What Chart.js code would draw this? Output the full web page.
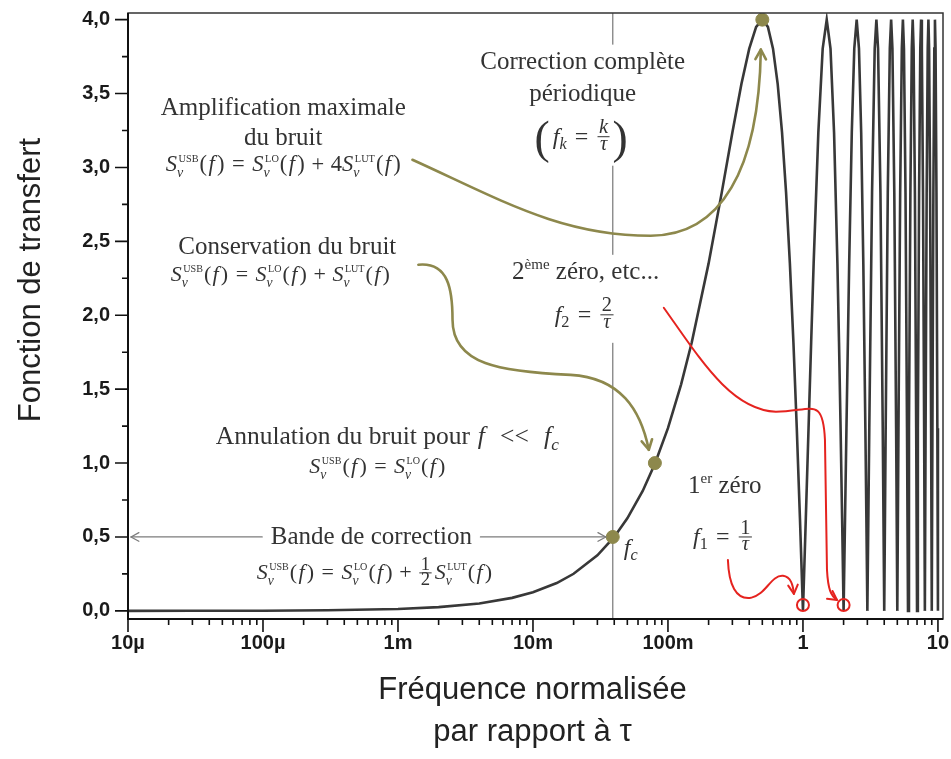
<!DOCTYPE html>
<html lang="fr">
<head>
<meta charset="utf-8">
<title>Fonction de transfert</title>
<script src="https://cdn.jsdelivr.net/npm/chart.js@4.4.1/dist/chart.umd.min.js"></script>
<style>
  html, body { margin: 0; padding: 0; background: #fff; }
</style>
</head>
<body>
<canvas id="transferChart" width="951" height="759"></canvas>
<script>
// Values (normalised frequence f*tau -> transfer)
const freq = [
    1e-5, 3e-5, 1e-4, 3e-4, 1e-3, 2e-3, 4e-3, 7e-3, 0.01, 0.015, 0.02, 0.03, 0.04, 0.05, 0.065, 0.08,
    0.1, 0.125, 0.15, 0.2, 0.25, 0.3, 0.35, 0.4, 0.45, 0.5, 0.55, 0.6, 0.65, 0.7, 0.75, 0.8, 0.85, 0.9, 0.95, 1,
    1.05, 1.1, 1.15, 1.2, 1.3, 1.4, 1.5, 1.6, 1.7, 1.8, 1.85, 1.9, 1.95, 2,
    2.05, 2.1, 2.2, 2.3, 2.4, 2.5, 2.6, 2.7, 2.8, 2.9, 2.95, 3,
    3.1, 3.25, 3.4, 3.5, 3.6, 3.75, 3.9, 4,
    4.1, 4.25, 4.4, 4.5, 4.6, 4.75, 4.9, 5,
    5.1, 5.25, 5.4, 5.5, 5.6, 5.75, 5.9, 6,
    6.1, 6.25, 6.4, 6.5, 6.6, 6.75, 6.9, 7,
    7.1, 7.25, 7.4, 7.5, 7.6, 7.75, 7.9, 8,
    8.1, 8.25, 8.4, 8.5, 8.6, 8.75, 8.9, 9,
    9.1, 9.25, 9.4, 9.5, 9.6, 9.75, 9.9, 10
];
const transfer = [
    0.0001, 0.0004, 0.0013, 0.0038, 0.0126, 0.0251, 0.0503, 0.088, 0.126, 0.188, 0.251, 0.376, 0.5, 0.626, 0.811, 0.995,
    1.236, 1.531, 1.816, 2.351, 2.828, 3.236, 3.564, 3.804, 3.951, 4.0, 3.951, 3.804, 3.564, 3.236, 2.828, 2.351, 1.816, 1.236, 0.626, 0,
    0.626, 1.236, 1.816, 2.351, 3.236, 3.804, 4.0, 3.804, 3.236, 2.351, 1.816, 1.236, 0.626, 0,
    0.626, 1.236, 2.351, 3.236, 3.804, 4.0, 3.804, 3.236, 2.351, 1.236, 0.626, 0,
    1.236, 2.828, 3.804, 4.0, 3.804, 2.828, 1.236, 0,
    1.236, 2.828, 3.804, 4.0, 3.804, 2.828, 1.236, 0,
    1.236, 2.828, 3.804, 4.0, 3.804, 2.828, 1.236, 0,
    1.236, 2.828, 3.804, 4.0, 3.804, 2.828, 1.236, 0,
    1.236, 2.828, 3.804, 4.0, 3.804, 2.828, 1.236, 0,
    1.236, 2.828, 3.804, 4.0, 3.804, 2.828, 1.236, 0,
    1.236, 2.828, 3.804, 4.0, 3.804, 2.828, 1.236, 0
];

// marked points on the curve: f_c, noise cancelled, max amplification
const markedFreq = [0.039, 0.08, 0.5];
const markedValue = [0.5, 1.0, 4.0];
const cornerFreq = 0.039;
const zeroFreq = [1, 2];

const decadeTicks = [1e-5, 1e-4, 1e-3, 1e-2, 1e-1, 1, 10];
const decadeLabels = ['10µ', '100µ', '1m', '10m', '100m', '1', '10'];
const yTicks = [0, 0.5, 1, 1.5, 2, 2.5, 3, 3.5, 4];

const SANS = '"Liberation Sans", Arial, sans-serif';
const SERIF = '"Liberation Serif", "Times New Roman", serif';
const OLIVE = '#8d884c';
const RED = '#e5231f';
const TEXT = '#333333';

// ---- small rich-text helper for the LaTeX-like labels ----
function fontOf(size, italic) {
    return (italic ? 'italic ' : '') + size.toFixed(1) + 'px ' + SERIF;
}
const N = t => ({ t });
const I = t => ({ t, it: true });
const sub = (t, it) => ({ t, it, s: 0.68, dy: 0.2 });
const sup = t => ({ t, s: 0.6, dy: -0.4 });
const gap = e => ({ gap: e });
const frac = (a, b) => ({ frac: [a, b] });
const stack = (a, b) => ({ stack: [a, b] });

const OF_F = [N('('), gap(0.06), I('f'), gap(0.1), N(')')];
const EQ = [gap(0.34), N('='), gap(0.34)];
const PLUS = [gap(0.3), N('+'), gap(0.3)];
const S = label => [I('S'), stack(label, 'ν')];

const formulaMax = [...S('USB'), ...OF_F, ...EQ, ...S('LO'), ...OF_F, ...PLUS, N('4'), ...S('LUT'), ...OF_F];
const formulaKeep = [...S('USB'), ...OF_F, ...EQ, ...S('LO'), ...OF_F, ...PLUS, ...S('LUT'), ...OF_F];
const formulaZero = [...S('USB'), ...OF_F, ...EQ, ...S('LO'), ...OF_F];
const formulaHalf = [...S('USB'), ...OF_F, ...EQ, ...S('LO'), ...OF_F, ...PLUS, frac('1', '2'), ...S('LUT'), ...OF_F];

function layoutRich(ctx, items, size) {
    const ops = [];
    let x = 0;
    items.forEach(it => {
        if (it.gap !== undefined) {
            x += it.gap * size;
        } else if (it.t !== undefined) {
            const font = fontOf(size * (it.s || 1), it.it);
            ctx.font = font;
            ops.push({ text: it.t, font, x, dy: (it.dy || 0) * size });
            x += ctx.measureText(it.t).width;
        } else if (it.stack) {
            const f1 = fontOf(size * 0.46, false);
            const f2 = fontOf(size * 0.62, true);
            ctx.font = f1;
            const w1 = ctx.measureText(it.stack[0]).width;
            ctx.font = f2;
            const w2 = ctx.measureText(it.stack[1]).width;
            ops.push({ text: it.stack[0], font: f1, x: x + 1.5, dy: -0.42 * size });
            ops.push({ text: it.stack[1], font: f2, x: x, dy: 0.24 * size });
            x += Math.max(w1 + 1.5, w2) + 1;
        } else if (it.frac) {
            const fs = size * 0.85;
            const fa = fontOf(fs, /[a-zτ]/.test(it.frac[0]));
            const fb = fontOf(fs, /[a-zτ]/.test(it.frac[1]));
            ctx.font = fa;
            const wa = ctx.measureText(it.frac[0]).width;
            ctx.font = fb;
            const wb = ctx.measureText(it.frac[1]).width;
            const w = Math.max(wa, wb) + 5;
            const bar = -0.3 * size;
            ops.push({ bar: true, x: x + 1, w: w - 2, dy: bar });
            ops.push({ text: it.frac[0], font: fa, x: x + (w - wa) / 2, dy: bar - 0.14 * size });
            ops.push({ text: it.frac[1], font: fb, x: x + (w - wb) / 2, dy: bar + 0.56 * size });
            x += w + 2;
        } else if (it.paren) {
            const font = fontOf(size * 1.9, false);
            ctx.font = font;
            ops.push({ text: it.paren, font, x, dy: 0.36 * size });
            x += ctx.measureText(it.paren).width + 3;
        }
    });
    return { ops, width: x };
}

function drawRich(ctx, note, cx, cy) {
    const { ops, width } = layoutRich(ctx, note.items, note.size);
    const left = cx - width / 2;
    const base = cy + 0.3 * note.size;
    if (note.bg) {
        const h = note.bgH || note.size * 1.4;
        ctx.fillStyle = '#ffffff';
        ctx.fillRect(left - 5, cy - h / 2, width + 10, h);
    }
    ctx.fillStyle = TEXT;
    ctx.strokeStyle = TEXT;
    ctx.textAlign = 'left';
    ctx.textBaseline = 'alphabetic';
    ops.forEach(op => {
        if (op.bar) {
            ctx.lineWidth = 1;
            ctx.beginPath();
            ctx.moveTo(left + op.x, base + op.dy);
            ctx.lineTo(left + op.x + op.w, base + op.dy);
            ctx.stroke();
        } else {
            ctx.font = op.font;
            ctx.fillText(op.text, left + op.x, base + op.dy);
        }
    });
}

// ---- annotation layout, positions in axis units [log10(f), transfer] ----
const notes = [
    { at: [-1.632, 3.716], size: 25, items: [N('Correction complète')], bg: true, bgH: 34 },
    { at: [-1.632, 3.499], size: 25, items: [N('périodique')], bg: true, bgH: 34 },
    { at: [-1.632, 3.208], size: 24, items: [{ paren: '(' }, I('f'), sub('k', true), ...EQ, frac('k', 'τ'), { paren: ')' }], bg: true, bgH: 58 },
    { at: [-3.850, 3.404], size: 25, items: [N('Amplification maximale')] },
    { at: [-3.850, 3.201], size: 25, items: [N('du bruit')] },
    { at: [-3.850, 3.019], size: 22.5, items: formulaMax },
    { at: [-3.820, 2.464], size: 25, items: [N('Conservation du bruit')] },
    { at: [-3.872, 2.274], size: 22, items: formulaKeep },
    { at: [-3.079, 1.178], size: 25.5, items: [N('Annulation du bruit pour'), gap(0.3), I('f'), gap(0.6), N('<<'), gap(0.6), I('f'), sub('c', true)] },
    { at: [-3.153, 0.975], size: 22, items: formulaZero },
    { at: [-3.197, 0.501], size: 25, items: [N('Bande de correction')] },
    { at: [-3.175, 0.257], size: 22, items: formulaHalf },
    { at: [-1.276, 0.426], size: 24, items: [I('f'), sub('c', true)] },
    { at: [-1.610, 2.294], size: 25, items: [N('2'), sup('ème'), N(' zéro, etc...')], bg: true, bgH: 34 },
    { at: [-1.610, 2.003], size: 24, items: [I('f'), sub('2'), ...EQ, frac('2', 'τ')], bg: true, bgH: 56 },
    { at: [-0.579, 0.846], size: 25, items: [N('1'), sup('er'), N(' zéro')] },
    { at: [-0.585, 0.500], size: 24, items: [I('f'), sub('1'), ...EQ, frac('1', 'τ')] }
];

const arrows = [
    { color: '#7c7c7c', width: 1.3, head: 9, start: [-4.006, 0.5], segs: [[[-4.978, 0.5]]] },
    { color: '#7c7c7c', width: 1.3, head: 9, start: [-2.389, 0.5], segs: [[[-1.460, 0.5]]] },
    { color: OLIVE, width: 2.6, head: 11, start: [-2.893, 3.052], segs: [
        [[-2.240, 2.782], [-1.795, 2.538], [-1.128, 2.538]],
        [[-0.608, 2.538], [-0.326, 2.985], [-0.312, 3.797]]
    ] },
    { color: OLIVE, width: 2.6, head: 11, start: [-2.849, 2.342], segs: [
        [[-2.626, 2.362], [-2.596, 2.173], [-2.596, 1.970]],
        [[-2.596, 1.665], [-2.240, 1.618], [-1.721, 1.597]],
        [[-1.350, 1.577], [-1.202, 1.360], [-1.142, 1.090]]
    ] },
    { color: RED, width: 2, head: 10, start: [-1.031, 2.051], segs: [
        [[-0.757, 1.699], [-0.534, 1.360], [-0.200, 1.347]],
        [[0.059, 1.347], [0.148, 1.462], [0.163, 1.157]],
        [[0.178, 0.277]],
        [[0.186, 0.142], [0.208, 0.102], [0.252, 0.074]]
    ] },
    { color: RED, width: 2, head: 10, start: [-0.556, 0.345], segs: [
        [[-0.549, 0.176], [-0.497, 0.074], [-0.386, 0.088]],
        [[-0.274, 0.108], [-0.237, 0.244], [-0.148, 0.237]],
        [[-0.089, 0.230], [-0.074, 0.176], [-0.067, 0.115]]
    ] }
];

function toPx(chart, p) {
    return [chart.scales.x.getPixelForValue(Math.pow(10, p[0])), chart.scales.y.getPixelForValue(p[1])];
}

function drawArrow(ctx, chart, a) {
    ctx.save();
    ctx.strokeStyle = a.color;
    ctx.lineWidth = a.width;
    ctx.lineCap = 'round';
    ctx.lineJoin = 'round';
    let last = toPx(chart, a.start);
    let prev = last;
    ctx.beginPath();
    ctx.moveTo(last[0], last[1]);
    a.segs.forEach(seg => {
        const pts = seg.map(p => toPx(chart, p));
        if (pts.length === 3) {
            ctx.bezierCurveTo(pts[0][0], pts[0][1], pts[1][0], pts[1][1], pts[2][0], pts[2][1]);
            prev = pts[1];
        } else {
            ctx.lineTo(pts[0][0], pts[0][1]);
            prev = last;
        }
        last = pts[pts.length - 1];
    });
    ctx.stroke();
    const ang = Math.atan2(last[1] - prev[1], last[0] - prev[0]);
    ctx.beginPath();
    [-0.5, 0.5].forEach(d => {
        ctx.moveTo(last[0], last[1]);
        ctx.lineTo(last[0] - a.head * Math.cos(ang + d), last[1] - a.head * Math.sin(ang + d));
    });
    ctx.stroke();
    ctx.restore();
}

const annotations = {
    id: 'annotations',
    beforeDatasetsDraw(chart) {
        const { ctx, chartArea: area, scales: { x } } = chart;
        ctx.save();
        // vertical line at the corner frequency
        const xc = x.getPixelForValue(cornerFreq);
        ctx.strokeStyle = '#808080';
        ctx.lineWidth = 1.3;
        ctx.beginPath();
        ctx.moveTo(xc, area.top);
        ctx.lineTo(xc, area.bottom);
        ctx.stroke();
        notes.forEach(n => {
            const [px, py] = toPx(chart, n.at);
            drawRich(ctx, n, px, py);
        });
        ctx.restore();
    },
    afterDatasetsDraw(chart) {
        const { ctx, chartArea: area, scales: { x, y } } = chart;
        arrows.forEach(a => drawArrow(ctx, chart, a));
        ctx.save();
        // red circles on the first two zeros
        ctx.strokeStyle = RED;
        ctx.lineWidth = 2;
        zeroFreq.forEach(f => {
            ctx.beginPath();
            ctx.arc(x.getPixelForValue(f), y.getPixelForValue(0.04), 6, 0, Math.PI * 2);
            ctx.stroke();
        });
        // frame
        ctx.strokeStyle = '#333';
        ctx.lineWidth = 1.5;
        ctx.strokeRect(area.left, area.top, area.right - area.left, area.bottom - area.top);
        ctx.strokeStyle = '#111';
        ctx.lineWidth = 2;
        ctx.beginPath();
        ctx.moveTo(area.left, area.top);
        ctx.lineTo(area.left, area.bottom);
        ctx.lineTo(area.right, area.bottom);
        ctx.stroke();
        // tick marks, outside
        ctx.lineWidth = 1.6;
        ctx.beginPath();
        yTicks.forEach((v, i) => {
            const py = y.getPixelForValue(v);
            ctx.moveTo(area.left - 13, py);
            ctx.lineTo(area.left, py);
            if (i > 0) {
                const pm = y.getPixelForValue(v - 0.25);
                ctx.moveTo(area.left - 6, pm);
                ctx.lineTo(area.left, pm);
            }
        });
        decadeTicks.forEach((d, i) => {
            const px = x.getPixelForValue(d);
            ctx.moveTo(px, area.bottom);
            ctx.lineTo(px, area.bottom + 13);
            if (i < decadeTicks.length - 1) {
                for (let m = 2; m <= 9; m++) {
                    const pm = x.getPixelForValue(d * m);
                    ctx.moveTo(pm, area.bottom);
                    ctx.lineTo(pm, area.bottom + 6);
                }
            }
        });
        ctx.stroke();
        ctx.restore();
    },
    afterDraw(chart) {
        const { ctx, chartArea: area } = chart;
        ctx.save();
        ctx.fillStyle = '#222';
        ctx.font = '31px ' + SANS;
        ctx.textAlign = 'center';
        ctx.textBaseline = 'middle';
        const xm = (area.left + area.right) / 2 - 3;
        ctx.fillText('Fréquence normalisée', xm, 690);
        ctx.fillText('par rapport à τ', xm, 732);
        ctx.translate(31, 280);
        ctx.rotate(-Math.PI / 2);
        ctx.fillText('Fonction de transfert', 0, 0);
        ctx.restore();
    }
};

const tickFont = { family: SANS, size: 20, weight: 'bold' };

const transferChart = new Chart(document.getElementById('transferChart'), {
    type: 'line',
    data: {
        datasets: [{
            label: 'Fonction de transfert',
            data: freq.map((f, i) => ({ x: f, y: transfer[i] })),
            borderColor: '#383838',
            borderWidth: 2.6,
            pointRadius: 0,
            tension: 0,
            order: 2
        }, {
            type: 'scatter',
            label: 'Points remarquables',
            data: markedFreq.map((f, i) => ({ x: f, y: markedValue[i] })),
            backgroundColor: OLIVE,
            borderColor: OLIVE,
            pointRadius: 6.5,
            order: 1
        }]
    },
    options: {
        responsive: false,
        animation: false,
        events: [],
        layout: { padding: { top: 13, right: 8, left: 0, bottom: 0 } },
        plugins: {
            legend: { display: false },
            tooltip: { enabled: false }
        },
        scales: {
            x: {
                type: 'logarithmic',
                min: 1e-5,
                max: 10.9,
                grid: { display: false, drawTicks: false },
                border: { display: false },
                afterBuildTicks: s => { s.ticks = decadeTicks.map(v => ({ value: v })); },
                afterFit: s => {
                    s.height = 140;
                    s.paddingLeft = 0;
                    s.paddingRight = 0;
                },
                ticks: {
                    autoSkip: false,
                    maxRotation: 0,
                    padding: 12,
                    color: '#1a1a1a',
                    font: tickFont,
                    callback: v => decadeLabels[decadeTicks.indexOf(v)]
                }
            },
            y: {
                min: -0.055,
                max: 4.045,
                grid: { display: false, drawTicks: false },
                border: { display: false },
                afterBuildTicks: s => { s.ticks = yTicks.map(v => ({ value: v })); },
                afterFit: s => {
                    s.width = 128;
                    s.paddingTop = 0;
                    s.paddingBottom = 0;
                },
                ticks: {
                    padding: 18,
                    color: '#1a1a1a',
                    font: tickFont,
                    callback: v => v.toFixed(1).replace('.', ',')
                }
            }
        }
    },
    plugins: [annotations]
});
</script>
</body>
</html>
